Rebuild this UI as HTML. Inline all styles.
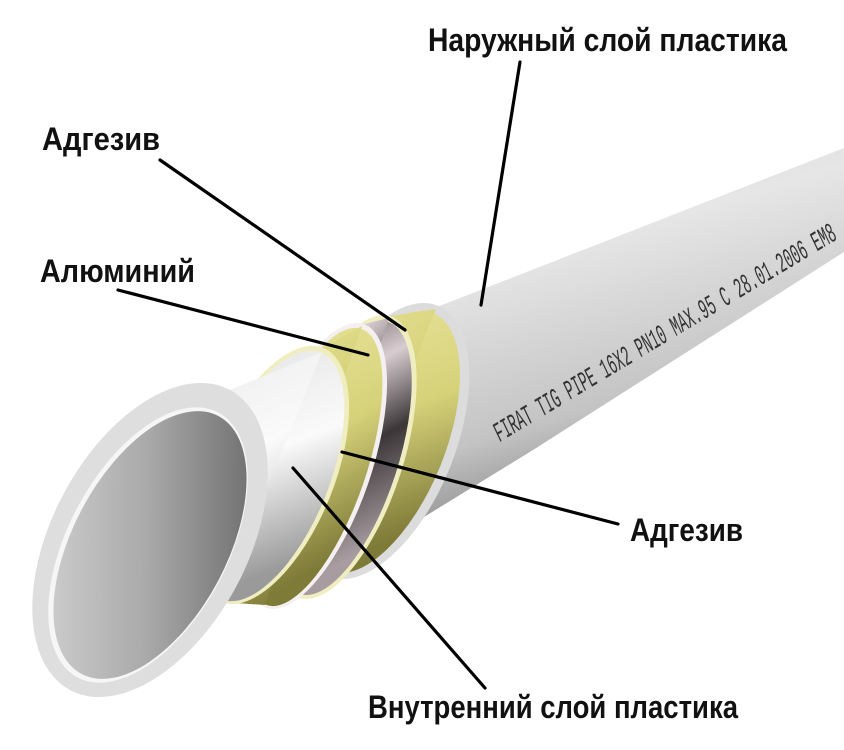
<!DOCTYPE html>
<html><head><meta charset="utf-8"><style>
html,body{margin:0;padding:0;background:#fff;}
svg{display:block}
.lb{font-family:"Liberation Sans",sans-serif;font-weight:bold;font-size:32px;fill:#111}
</style></head><body>
<svg width="844" height="750" viewBox="0 0 844 750" xmlns="http://www.w3.org/2000/svg">
<defs>
<linearGradient id="gOut" x1="0" y1="0" x2="0.35" y2="1">
<stop offset="0" stop-color="#d4d4d4"/><stop offset="0.35" stop-color="#e6e6e6"/><stop offset="0.7" stop-color="#c4c4c4"/><stop offset="1" stop-color="#6a6a6a"/></linearGradient>
<linearGradient id="gY" x1="0" y1="0" x2="0.4" y2="1">
<stop offset="0" stop-color="#e8e49a"/><stop offset="0.5" stop-color="#d6d27a"/><stop offset="1" stop-color="#7e7a38"/></linearGradient>
<linearGradient id="gM" x1="0" y1="0" x2="0.4" y2="1">
<stop offset="0" stop-color="#5a5458"/><stop offset="0.3" stop-color="#d8ccd0"/><stop offset="0.6" stop-color="#3a3638"/><stop offset="1" stop-color="#a89ca0"/></linearGradient>
<linearGradient id="gW" x1="0" y1="0" x2="0.4" y2="1">
<stop offset="0" stop-color="#e4e4e4"/><stop offset="0.5" stop-color="#fafafa"/><stop offset="1" stop-color="#9a9a9a"/></linearGradient>
<linearGradient id="gH" x1="1" y1="0" x2="0" y2="1">
<stop offset="0" stop-color="#5e5e5e"/><stop offset="0.5" stop-color="#a8a8a8"/><stop offset="1" stop-color="#d8d8d8"/></linearGradient>
</defs>

<!-- outer pipe body -->
<polygon points="437,307 844,148 844,252 533,450 328,576" fill="url(#gOut)"/>
<ellipse cx="383" cy="441" rx="72" ry="146" transform="rotate(22 383 441)" fill="#dcdcdc"/>
<!-- yellow2 -->
<ellipse cx="381" cy="442" rx="64" ry="139" transform="rotate(22 381 442)" fill="url(#gY)"/>
<polygon points="391,316 436,309 330,572 299,598" fill="url(#gY)"/>
<ellipse cx="345" cy="457" rx="58" ry="148" transform="rotate(18 345 457)" fill="#f0eec0"/>
<!-- metal -->
<ellipse cx="344" cy="458" rx="54" ry="143" transform="rotate(18 344 458)" fill="url(#gM)"/>
<polygon points="364,324 389,318 298,595 266,608" fill="url(#gM)"/>
<ellipse cx="315" cy="466" rx="56" ry="150" transform="rotate(19 315 466)" fill="#f4f0f0"/>
<!-- yellow1 -->
<ellipse cx="314" cy="467" rx="52" ry="146" transform="rotate(19 314 467)" fill="url(#gY)"/>
<polygon points="323,348 362,326 265,605 221,602" fill="url(#gY)"/>
<ellipse cx="272" cy="475" rx="62" ry="137" transform="rotate(22 272 475)" fill="#f0eec0"/>
<!-- white inner -->
<ellipse cx="271" cy="476" rx="58" ry="133" transform="rotate(22 271 476)" fill="url(#gW)"/>
<polygon points="230,390 322,352 222,598 70,690" fill="url(#gW)"/>
<ellipse cx="150" cy="540" rx="98" ry="170" transform="rotate(28 150 540)" fill="#dedede"/>
<ellipse cx="148" cy="545" rx="80" ry="150" transform="rotate(28 148 545)" fill="#f6f6f6"/>
<ellipse cx="150" cy="545" rx="77" ry="146" transform="rotate(28 150 545)" fill="url(#gH)"/>

<!-- print -->
<text transform="translate(500,442) rotate(-31)" font-family="Liberation Mono,monospace" font-style="italic" font-size="28" fill="#333" textLength="395" lengthAdjust="spacingAndGlyphs">FIRAT TIG PIPE 16X2 PN10 MAX.95 C 28.01.2006 EM8</text>

<!-- leader lines -->
<g stroke="#000" stroke-width="3.2" stroke-linecap="round">
<line x1="520" y1="62" x2="481" y2="305"/>
<line x1="160" y1="160" x2="405" y2="330"/>
<line x1="118" y1="290" x2="368" y2="355"/>
<line x1="618" y1="524" x2="342" y2="452"/>
<line x1="485" y1="688" x2="293" y2="468"/>
</g>

<text class="lb" x="428" y="51" textLength="359" lengthAdjust="spacingAndGlyphs">Наружный слой пластика</text>
<text class="lb" x="42" y="150" textLength="118" lengthAdjust="spacingAndGlyphs">Адгезив</text>
<text class="lb" x="40" y="282" textLength="155" lengthAdjust="spacingAndGlyphs">Алюминий</text>
<text class="lb" x="630" y="541" textLength="113" lengthAdjust="spacingAndGlyphs">Адгезив</text>
<text class="lb" x="368" y="718" textLength="370" lengthAdjust="spacingAndGlyphs">Внутренний слой пластика</text>
</svg>
</body></html>
